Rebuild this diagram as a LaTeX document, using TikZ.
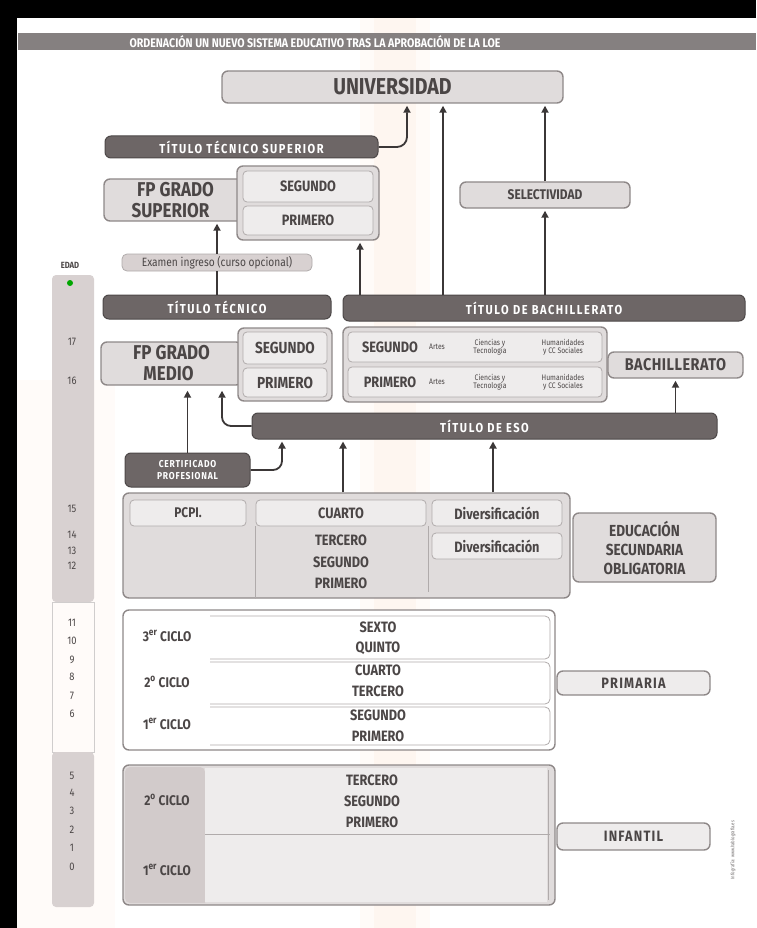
\documentclass[tikz,border=0pt]{standalone}
\usepackage{fontspec}
\setmainfont{Fira Sans}[FakeStretch=0.85]
\usetikzlibrary{arrows.meta}
\definecolor{darkg}{HTML}{6D6666}
\definecolor{darkline}{HTML}{4D4848}
\definecolor{lightg}{HTML}{E0DCDC}
\definecolor{lineg}{HTML}{8E8888}
\definecolor{cellg}{HTML}{EEECEC}
\definecolor{cellline}{HTML}{B0ABAB}
\definecolor{textg}{HTML}{4B4646}
\definecolor{arrowc}{HTML}{3B3737}
\definecolor{bandg}{HTML}{858080}
\definecolor{tintO}{RGB}{255,251,248}
\definecolor{tintI}{RGB}{254,246,240}
\definecolor{tintL}{RGB}{255,251,249}
\definecolor{agecol}{HTML}{D8D1D1}
\newcommand\bx[7]{\node[#2,minimum width={#5-#3},minimum height={#6-#4}] (#1) at ({(#3+#5)/2},{(#4+#6)/2}) {#7};}
\newcommand\fs[2]{\fontsize{#1}{#2}\selectfont}
\begin{document}
\begin{tikzpicture}[x=1pt,y=-1pt,
  lbox/.style={draw=lineg,fill=lightg,line width=1.4pt,rounded corners=6pt,text=textg,
    font=\bfseries\fs{16}{18},align=center,inner sep=0pt},
  dbox/.style={draw=darkline,fill=darkg,line width=1pt,rounded corners=6pt,text=white,
    font=\bfseries\fs{13}{14}\addfontfeature{LetterSpace=12},align=center,inner sep=0pt},
  cell/.style={draw=cellline,fill=cellg,line width=0.8pt,rounded corners=4pt,text=textg,
    font=\bfseries\fs{15}{16},align=center,inner sep=0pt},
  ebox/.style={draw=cellline,fill=agecol,line width=0.8pt,rounded corners=5pt,text=textg,
    font=\fs{12}{12},inner sep=0pt},
  txt/.style={text=textg,font=\bfseries\fs{15}{16},align=center,inner sep=0pt},
  ciclo/.style={text=textg,font=\bfseries\fs{14}{15},align=center,inner sep=0pt},
  tiny/.style={text=textg,font=\fs{8}{8.5},align=center,inner sep=0pt},
  age/.style={text=textg,font=\fs{11}{12},inner sep=0pt},
  sep/.style={draw=cellline,line width=0.8pt},
  arr/.style={draw=arrowc,line width=1.8pt,-{Triangle[length=7pt,width=7pt]},shorten >=2pt},
  lin/.style={draw=arrowc,line width=1.8pt}]
\useasboundingbox (0,0) rectangle (756,928);
% paper background tints
\fill[tintO] (360,18) rectangle (430,928);
\fill[tintI] (374,18) rectangle (416,928);
\fill[tintL] (17,380) rectangle (115,928);
% black frame
\fill[black] (0,0) rectangle (756,18);
\fill[black] (0,0) rectangle (17,928);
% header
\node[fill=bandg,minimum width=738,minimum height=17,inner sep=0pt] (header) at (387,41.5) {};
\node[text=white,font=\bfseries\fs{12.5}{13},inner sep=0pt] (htitle) at (315,41.5)
  {ORDENACIÓN UN NUEVO SISTEMA EDUCATIVO TRAS LA APROBACIÓN DE LA LOE};
% top part
\bx{univ}{lbox,font=\bfseries\fs{23}{24}}{222}{71}{563}{103}{UNIVERSIDAD}
\bx{tts}{dbox}{105}{136}{378}{158}{TÍTULO TÉCNICO SUPERIOR}
\bx{fpgs}{lbox,font=\bfseries\fs{20}{21}}{104}{179}{247}{221}{FP GRADO\\SUPERIOR\hspace*{10pt}}
\bx{fpgsy}{lbox}{237}{166}{379}{240}{}
\bx{fpgs2}{cell}{243}{171}{373}{202}{SEGUNDO}
\bx{fpgs1}{cell}{243}{206}{373}{235}{PRIMERO}
\bx{exam}{ebox}{122}{254}{312}{271}{Examen ingreso (curso opcional)}
\bx{sel}{lbox,font=\bfseries\fs{14}{15}}{460}{182}{630}{208}{SELECTIVIDAD}
\bx{tt}{dbox}{103}{295}{331}{319}{TÍTULO TÉCNICO}
\bx{tb}{dbox}{343}{295}{745}{321}{TÍTULO DE BACHILLERATO}
% FP grado medio
\bx{fpgm}{lbox,font=\bfseries\fs{20}{21}}{101}{342}{242}{385}{FP GRADO\\MEDIO\hspace*{6pt}}
\bx{fpgmy}{lbox}{238}{328}{332}{401}{}
\bx{fpgm2}{cell,font=\bfseries\fs{16}{17}}{243}{332}{327}{364}{SEGUNDO}
\bx{fpgm1}{cell,font=\bfseries\fs{16}{17}}{243}{368}{327}{397}{PRIMERO}
% Bachillerato
\bx{bach}{lbox}{343}{327}{607}{402}{}
\bx{bach2}{cell}{348}{332}{602}{362}{}
\bx{bach1}{cell}{348}{367}{602}{397}{}
\node[txt] (b2l) at (390,347) {SEGUNDO};
\node[tiny] (b2a) at (437,347) {Artes};
\node[tiny] (b2c) at (490,347) {Ciencias y\\Tecnología};
\node[tiny] (b2h) at (563,347) {Humanidades\\y CC Sociales};
\node[txt] (b1l) at (390,382) {PRIMERO};
\node[tiny] (b1a) at (437,382) {Artes};
\node[tiny] (b1c) at (490,382) {Ciencias y\\Tecnología};
\node[tiny] (b1h) at (563,382) {Humanidades\\y CC Sociales};
\bx{bachl}{lbox,font=\bfseries\fs{17}{18}\addfontfeature{LetterSpace=3}}{608}{352}{743}{378}{BACHILLERATO}
% ESO
\bx{teso}{dbox}{252}{413}{717}{439}{TÍTULO DE ESO}
\bx{cp}{dbox,font=\bfseries\fs{10}{12}\addfontfeature{LetterSpace=8}}{125}{453}{250}{487}{CERTIFICADO\\PROFESIONAL}
\bx{eso}{lbox}{123}{493}{570}{598}{}
\bx{pcpi}{cell,font=\bfseries\fs{14}{15}}{130}{500}{246}{526}{PCPI.}
\bx{cuarto}{cell}{256}{500}{426}{526}{CUARTO}
\bx{div1}{cell}{432}{500}{562}{526}{Diversificación}
\bx{div2}{cell}{432}{533}{562}{559}{Diversificación}
\draw[sep] (cuarto.south west) -- (cuarto.south west |- eso.south);
\draw[sep] (div1.south west) ++(-3,0) -- ++(0,66);
\node[txt] (e3) at (341,540) {TERCERO};
\node[txt] (e2) at (341,562) {SEGUNDO};
\node[txt] (e1) at (341,583) {PRIMERO};
\bx{esol}{lbox,font=\bfseries\fs{16}{19}}{573}{513}{716}{582}{EDUCACIÓN\\SECUNDARIA\\OBLIGATORIA}
% Primaria
\bx{prim}{lbox,fill=white}{123}{610}{555}{750}{}
\draw[sep,rounded corners=5pt] (210,616) -- (550,616) -- (550,659) -- (210,659);
\draw[sep,rounded corners=5pt] (210,662) -- (550,662) -- (550,704) -- (210,704);
\draw[sep,rounded corners=5pt] (210,707) -- (550,707) -- (550,745) -- (210,745);
\node[ciclo] (c3) at (167,636) {3\textsuperscript{er} CICLO};
\node[txt] (p6) at (378,627) {SEXTO};
\node[txt] (p5) at (378,648) {QUINTO};
\node[ciclo] (c2) at (167,682) {2\textsuperscript{o} CICLO};
\node[txt] (p4) at (378,670) {CUARTO};
\node[txt] (p3) at (378,691) {TERCERO};
\node[ciclo] (c1) at (167,724) {1\textsuperscript{er} CICLO};
\node[txt] (p2) at (378,715) {SEGUNDO};
\node[txt] (p1) at (378,736) {PRIMERO};
\bx{priml}{lbox,fill=cellg,font=\bfseries\fs{15}{16}\addfontfeature{LetterSpace=8}}{557}{671}{710}{695}{PRIMARIA}
% Infantil
\bx{inf}{lbox}{123}{765}{555}{905}{}
\fill[agecol!85!black!20!agecol] (125,767) [rounded corners=5pt] -- (205,767) [sharp corners] -- (205,903) [rounded corners=5pt] -- (125,903) -- cycle;
\fill[cellg] (205,768) rectangle (547,902);
\draw[sep] (205,834) -- (550,834);
\draw[sep] (548,770) -- (548,900);
\node[ciclo] (ic2) at (167,800) {2\textsuperscript{o} CICLO};
\node[txt] (i3) at (372,780) {TERCERO};
\node[txt] (i2) at (372,801) {SEGUNDO};
\node[txt] (i1) at (372,822) {PRIMERO};
\node[ciclo] (ic1) at (167,870) {1\textsuperscript{er} CICLO};
\bx{infl}{lbox,fill=cellg,font=\bfseries\fs{15}{16}\addfontfeature{LetterSpace=8}}{557}{823}{710}{850}{INFANTIL}
% age column
\node[text=textg,font=\bfseries\fs{9}{10},inner sep=0pt] (edad) at (70,265) {EDAD};
\fill[agecol,rounded corners=4pt] (52,275) rectangle (94,602);
\draw[cellline!60,line width=0.6pt] (52,602) rectangle (94,752);
\fill[agecol,rounded corners=4pt] (52,752) rectangle (94,907);
\fill[green!65!black] (70,283) circle (3);
\foreach \a/\y in {17/342,16/381,15/509,14/535,13/551,12/566,11/623,10/641,9/660,8/677,7/696,6/714,5/776,4/793,3/811,2/830,1/848,0/867}
  \node[age] (age\a) at (72,\y) {\a};
% credit
\node[rotate=90,text=textg!80,font=\fs{5}{5},inner sep=0pt] (credit) at (733,850) {Infografía: www.hablografia.es};
% connectors
\draw[arr,rounded corners=10pt] (tts.east) -| ([xshift=14.5pt]univ.south);
\draw[arr] ([xshift=-101pt]tb.north) -- ([xshift=-101pt]tb.north |- univ.south);
\draw[arr] (tb.north -| sel.south) -- (sel.south);
\draw[arr] (sel.north) -- (sel.north |- univ.south);
\draw[arr] ([xshift=-184pt]tb.north) -- ([xshift=-184pt]tb.north |- fpgsy.south);
\draw[lin] (tt.north) -- (exam.south);
\draw[arr] (exam.north) -- (exam.north |- fpgs.south);
\draw[arr,shorten >=5pt] (cp.north) -- (cp.north |- fpgm.south);
\draw[arr,rounded corners=9pt,shorten >=5pt] (teso.west) -| ([xshift=50.5pt]fpgm.south);
\draw[arr,rounded corners=9pt] (cp.east) -| ([xshift=-202.5pt]teso.south);
\draw[arr] ([xshift=-3.5pt]eso.north) -- ([xshift=-3.5pt]eso.north |- teso.south);
\draw[arr] ([xshift=146.5pt]eso.north) -- ([xshift=146.5pt]eso.north |- teso.south);
\draw[arr] (teso.north -| bachl.south) -- (bachl.south);
\end{tikzpicture}
\end{document}
